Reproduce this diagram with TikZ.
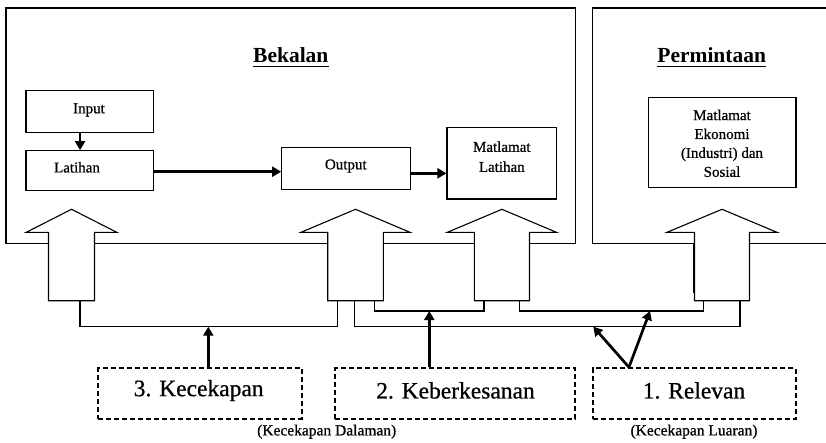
\documentclass[tikz,border=0pt]{standalone}
\usepackage{fontspec}
\setmainfont{Liberation Serif}
\newfontfamily\dk{Liberation Serif}[FakeBold=0.7]
\usetikzlibrary{arrows.meta,calc}
\newcommand\blockarr[4]{%
  \draw[fill=white,line width=1.1pt] (#2,209.3) -- (#2+#3,232.3) -- (#2+#4,232.3) -- (#2+#4,300.7)
    -- (#2-#4,300.7) -- (#2-#4,232.3) -- (#2-#3,232.3) -- cycle;
  \coordinate (#1) at (#2,300.7);}
\begin{document}
\begin{tikzpicture}[x=1pt,y=-1pt,
  frame/.style={line width=1.2pt},
  thinline/.style={line width=1.1pt},
  box/.style={draw,line width=1.1pt,rectangle,inner sep=0pt},
  btxt/.style={font=\dk\fontsize{15}{19}\selectfont,inner sep=0pt,align=center},
  title/.style={font=\bfseries\fontsize{21.5}{24}\selectfont,inner sep=0pt,anchor=base},
  dbox/.style={draw,line width=2.1pt,dash pattern=on 5pt off 3pt,inner sep=0pt,
    minimum height=50.7pt},
  dtxt/.style={font=\dk\fontsize{23.5}{26}\selectfont,inner sep=0pt},
  small/.style={font=\dk\fontsize{15.5}{17}\selectfont,inner sep=0pt},
  heavy/.style={line width=2.7pt,-{Triangle[length=9pt,width=10pt]}},
]
\useasboundingbox (0,0) rectangle (826,442);
% main frames
\draw[frame] (6,8) rectangle (575.7,243.3);
\draw[frame] (830,8) -| (592.7,243.3) -- (830,243.3);
% titles
\node[title] (bek) at (290.8,62.3) {Bekalan};
\draw[line width=1.4pt] ($(bek.base west)+(0,4.4)$) -- ($(bek.base east)+(0,4.4)$);
\node[title] (perm) at (711.7,62.3) {Permintaan};
\draw[line width=1.4pt] ($(perm.base west)+(0,4.4)$) -- ($(perm.base east)+(0,4.4)$);
% boxes
\node[box,minimum width=127.7pt,minimum height=42pt] (input) at (89.85,111.7) {};
\node[btxt] at (89,110) {Input};
\node[box,minimum width=127.7pt,minimum height=40pt] (latihan) at (89.85,170.7) {};
\node[btxt] at (77,167.3) {Latihan};
\node[box,minimum width=129pt,minimum height=42pt] (output) at (346.2,168.3) {};
\node[btxt] at (345.8,166) {Output};
\node[box,minimum width=109.7pt,minimum height=71.3pt] (mlat) at (501.85,163.35) {};
\node[btxt,font=\dk\fontsize{15}{20}\selectfont] at (501.8,156.7) {Matlamat\\Latihan};
\node[box,minimum width=147.7pt,minimum height=90pt] (mek) at (722.15,142.7) {};
\node[btxt,font=\dk\fontsize{15}{18.9}\selectfont] at (722,143.3) {Matlamat\\Ekonomi\\(Industri) dan\\Sosial};
% internal arrows
\draw[heavy] ([xshift=-9.8pt]input.south) -- ([xshift=-9.8pt]latihan.north);
\draw[heavy] ($(latihan.east)+(0,1)$) -- ($(latihan.east -| output.west)+(0,1)$);
\draw[heavy] ($(output.east)+(0,5)$) -- ($(output.east -| mlat.west)+(0,5)$);
% block arrows
\blockarr{a1}{71.5}{45.3}{23}
\blockarr{a2}{355.5}{54.5}{27.8}
\blockarr{a3}{501.9}{54.5}{27.6}
\blockarr{a4}{722}{55}{27.5}
\draw[line width=1.6pt] (693.6,243.3) -- (693.6,293);
% connector lines
\draw[thinline] ($(a1)+(8.5,0)$) -- ++(0,26) -| ($(a2)+(-18.2,0)$);
\draw[thinline] ($(a2)+(-1.2,0)$) -- ++(0,26) -| ($(a4)+(18,0)$);
\draw[thinline] ($(a2)+(18.8,0)$) -- ++(0,10.3) -| ($(a3)+(-17.9,0)$);
\draw[thinline] ($(a3)+(17.4,0)$) -- ++(0,10.3) -| ($(a4)+(-18.7,0)$);
\coordinate (l1m) at (208.3,326.7);
\coordinate (l3m) at (429.3,311);
\coordinate (l2m) at (593.3,326.7);
\coordinate (l4m) at (650,311);
% dashed boxes
\node[dbox,minimum width=203.4pt] (k3) at (200,393.65) {};
\node[dtxt] at (198.7,390.5) {3. Kecekapan};
\node[dbox,minimum width=240pt] (k2) at (455,393.65) {};
\node[dtxt] at (455.5,390.5) {2. Keberkesanan};
\node[dbox,minimum width=202.7pt] (r1) at (694.65,393.65) {};
\node[dtxt] at (694,390.5) {1. Relevan};
\node[small] at (326.7,431.7) {(Kecekapan Dalaman)};
\node[small] at (694,431.7) {(Kecekapan Luaran)};
% heavy arrows from dashed boxes
\draw[heavy] (k3.north -| l1m) -- (l1m);
\draw[heavy] (k2.north -| l3m) -- (l3m);
\draw[heavy] ($(r1.north west)+(36.7,0)$) -- (l2m);
\draw[heavy] ($(r1.north west)+(36.7,0)$) -- (l4m);
\end{tikzpicture}
\end{document}
